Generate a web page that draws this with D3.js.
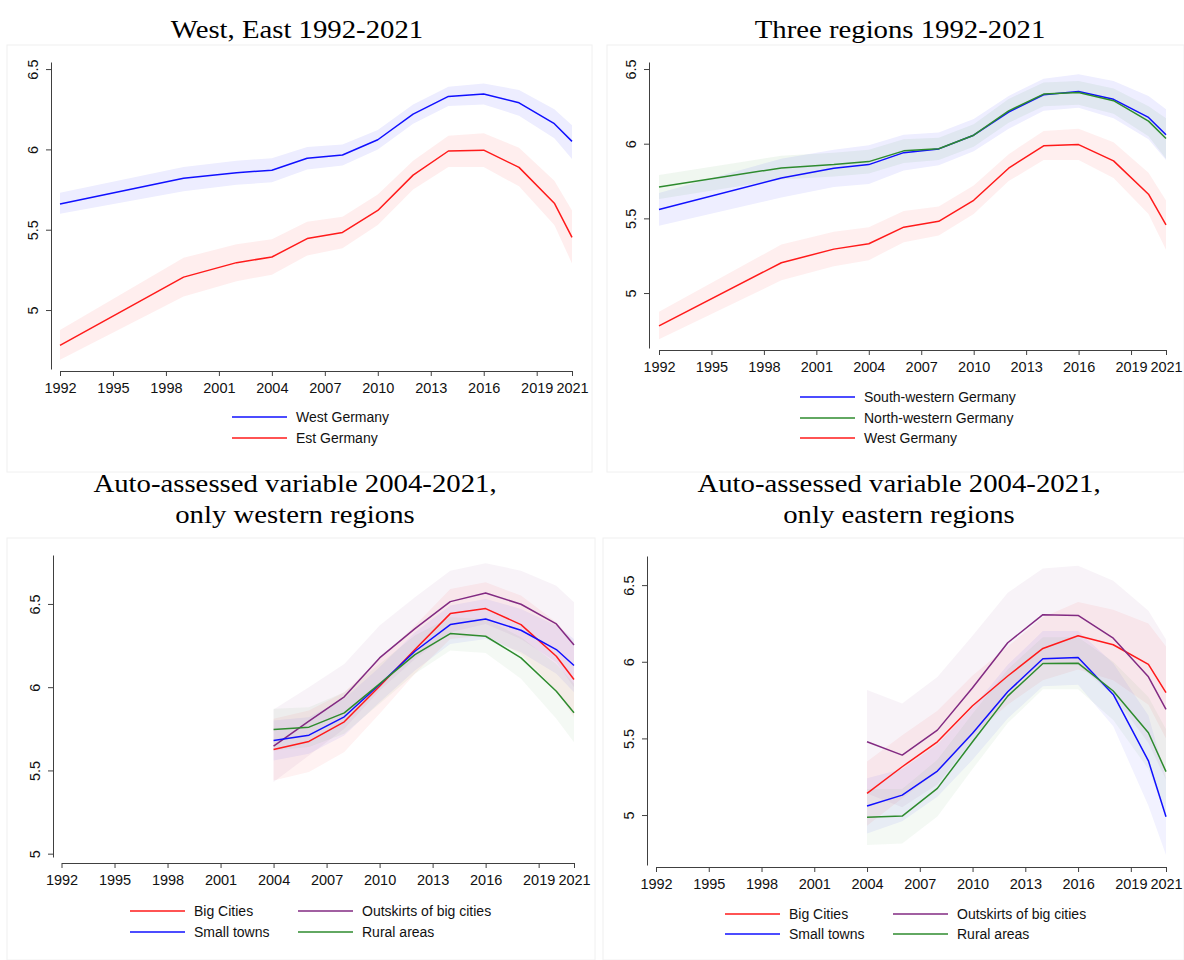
<!DOCTYPE html>
<html>
<head>
<meta charset="utf-8">
<script src="https://cdn.jsdelivr.net/npm/d3@7"></script>
<style>
  html, body { margin: 0; padding: 0; background: #ffffff; }
  svg { display: block; }
</style>
</head>
<body>
<svg id="chart" width="1184" height="960"></svg>
<script>
// ---------------- DATA ----------------
const xTickYears = [1992, 1995, 1998, 2001, 2004, 2007, 2010, 2013, 2016, 2019, 2021];
const yTicksTop = [5, 5.5, 6, 6.5];
const yTickLabels = ["5", "5.5", "6", "6.5"];

const yearsFull = [1992, 1999, 2002, 2004, 2006, 2008, 2010, 2012, 2014, 2016, 2018, 2020, 2021];
const yearsShort = [2004, 2006, 2008, 2010, 2012, 2014, 2016, 2018, 2020, 2021];

// Panel 1: West / East
const westMean = [5.66, 5.82, 5.855, 5.87, 5.945, 5.965, 6.06, 6.22, 6.33, 6.345, 6.29, 6.16, 6.05];
const westLo   = [5.60, 5.74, 5.78, 5.795, 5.875, 5.90, 6.00, 6.16, 6.27, 6.28, 6.21, 6.07, 5.94];
const westHi   = [5.73, 5.89, 5.93, 5.945, 6.015, 6.03, 6.12, 6.28, 6.39, 6.41, 6.37, 6.25, 6.15];
const eastMean = [4.78, 5.205, 5.295, 5.33, 5.445, 5.483, 5.62, 5.84, 5.99, 5.995, 5.888, 5.665, 5.452];
const eastLo   = [4.69, 5.085, 5.18, 5.22, 5.34, 5.385, 5.53, 5.75, 5.89, 5.89, 5.77, 5.53, 5.29];
const eastHi   = [4.875, 5.325, 5.41, 5.44, 5.55, 5.58, 5.72, 5.93, 6.085, 6.10, 6.01, 5.805, 5.62];

// Panel 2: three regions
const swMean = [5.56, 5.77, 5.835, 5.86, 5.94, 5.965, 6.057, 6.212, 6.328, 6.35, 6.297, 6.176, 6.06];
const swLo   = [5.45, 5.64, 5.71, 5.73, 5.82, 5.855, 5.95, 6.10, 6.22, 6.24, 6.17, 6.03, 5.89];
const swHi   = [5.67, 5.90, 5.96, 5.99, 6.06, 6.075, 6.165, 6.32, 6.435, 6.465, 6.42, 6.32, 6.23];
const nwMean = [5.71, 5.838, 5.86, 5.88, 5.952, 5.966, 6.057, 6.22, 6.332, 6.343, 6.288, 6.151, 6.035];
const nwLo   = [5.63, 5.76, 5.78, 5.80, 5.87, 5.89, 5.98, 6.14, 6.25, 6.26, 6.20, 6.05, 5.90];
const nwHi   = [5.79, 5.92, 5.94, 5.96, 6.03, 6.04, 6.13, 6.30, 6.41, 6.42, 6.37, 6.25, 6.17];
const wgMean = [4.78, 5.203, 5.294, 5.33, 5.441, 5.48, 5.621, 5.836, 5.986, 5.994, 5.885, 5.662, 5.456];
const wgLo   = [4.69, 5.085, 5.18, 5.22, 5.34, 5.385, 5.53, 5.75, 5.89, 5.89, 5.77, 5.53, 5.29];
const wgHi   = [4.875, 5.325, 5.41, 5.44, 5.55, 5.58, 5.72, 5.93, 6.085, 6.10, 6.01, 5.805, 5.62];

// Panel 3: western regions
const w_big   = [5.626, 5.674, 5.792, 6.006, 6.226, 6.442, 6.472, 6.376, 6.186, 6.046];
const w_bigLo = [5.44, 5.49, 5.61, 5.84, 6.08, 6.29, 6.31, 6.20, 5.98, 5.82];
const w_bigHi = [5.81, 5.86, 5.97, 6.17, 6.37, 6.59, 6.63, 6.55, 6.39, 6.27];
const w_out   = [5.646, 5.796, 5.942, 6.176, 6.352, 6.514, 6.566, 6.498, 6.38, 6.254];
const w_outLo = [5.43, 5.59, 5.75, 5.98, 6.17, 6.33, 6.38, 6.29, 6.15, 6.00];
const w_outHi = [5.866, 6.00, 6.14, 6.37, 6.54, 6.70, 6.745, 6.70, 6.61, 6.51];
const w_small   = [5.68, 5.712, 5.822, 6.016, 6.216, 6.376, 6.41, 6.342, 6.226, 6.13];
const w_smallLo = [5.56, 5.60, 5.71, 5.91, 6.10, 6.26, 6.29, 6.21, 6.08, 5.97];
const w_smallHi = [5.80, 5.82, 5.93, 6.12, 6.33, 6.49, 6.53, 6.47, 6.37, 6.29];
const w_rural   = [5.746, 5.76, 5.846, 6.02, 6.196, 6.322, 6.306, 6.176, 5.976, 5.846];
const w_ruralLo = [5.62, 5.64, 5.72, 5.90, 6.08, 6.22, 6.206, 6.05, 5.81, 5.67];
const w_ruralHi = [5.87, 5.88, 5.97, 6.14, 6.31, 6.42, 6.41, 6.30, 6.14, 6.02];

// Panel 4: eastern regions
const e_big   = [5.141, 5.315, 5.478, 5.713, 5.907, 6.087, 6.17, 6.111, 5.983, 5.798];
const e_bigLo = [4.93, 5.11, 5.28, 5.52, 5.72, 5.88, 5.95, 5.88, 5.72, 5.50];
const e_bigHi = [5.35, 5.52, 5.68, 5.91, 6.10, 6.29, 6.39, 6.34, 6.25, 6.10];
const e_out   = [5.478, 5.391, 5.554, 5.83, 6.124, 6.307, 6.302, 6.154, 5.902, 5.689];
const e_outLo = [5.14, 5.05, 5.20, 5.49, 5.80, 6.00, 5.98, 5.78, 5.47, 5.23];
const e_outHi = [5.815, 5.728, 5.90, 6.17, 6.45, 6.609, 6.626, 6.528, 6.333, 6.146];
const e_small   = [5.059, 5.13, 5.287, 5.533, 5.804, 6.02, 6.028, 5.787, 5.354, 4.989];
const e_smallLo = [4.88, 4.96, 5.12, 5.36, 5.63, 5.84, 5.85, 5.58, 5.06, 4.74];
const e_smallHi = [5.24, 5.30, 5.46, 5.70, 5.98, 6.20, 6.20, 5.99, 5.65, 5.24];
const e_rural   = [4.985, 4.993, 5.174, 5.478, 5.776, 5.989, 5.991, 5.809, 5.537, 5.283];
const e_ruralLo = [4.804, 4.815, 4.99, 5.30, 5.60, 5.82, 5.82, 5.62, 5.30, 5.00];
const e_ruralHi = [5.17, 5.17, 5.36, 5.66, 5.95, 6.16, 6.16, 6.00, 5.77, 5.56];

const BLUE = "#1010ff", RED = "#ff1a1a", GREEN = "#2e8b2e", PURPLE = "#822a82";

// --------------- LAYOUT ----------------
const svg = d3.select("#chart");

const panels = [
  {
    frame: [7, 45, 585, 427],
    title: ["West, East 1992-2021"], titleX: 297, titleY: [38],
    yAxisX: 51, yDomain: [4.633, 6.544], yRange: [369, 62],
    xRange: [60, 572], xAxisY: 371, bandOpacity: 0.075,
    years: yearsFull,
    series: [
      {name: "West Germany", color: BLUE, mean: westMean, lo: westLo, hi: westHi},
      {name: "Est Germany", color: RED, mean: eastMean, lo: eastLo, hi: eastHi}
    ],
    legend: {cols: [232], rows: [417, 438], order: [[0,0],[0,1]]}
  },
  {
    frame: [607, 45, 577, 427],
    title: ["Three regions 1992-2021"], titleX: 900, titleY: [38],
    yAxisX: 649, yDomain: [4.632, 6.547], yRange: [348, 62],
    xRange: [659, 1166], xAxisY: 350, bandOpacity: 0.07,
    years: yearsFull,
    series: [
      {name: "West Germany", color: RED, mean: wgMean, lo: wgLo, hi: wgHi},
      {name: "South-western Germany", color: BLUE, mean: swMean, lo: swLo, hi: swHi},
      {name: "North-western Germany", color: GREEN, mean: nwMean, lo: nwLo, hi: nwHi}
    ],
    legend: {cols: [800], rows: [397, 418, 438], order: [[0,2],[0,0],[0,1]]}
  },
  {
    frame: [7, 538, 588, 422],
    title: ["Auto-assessed variable 2004-2021,", "only western regions"], titleX: 295, titleY: [492, 523],
    yAxisX: 53, yDomain: [4.98, 6.794], yRange: [857, 555],
    xRange: [61.5, 574], xAxisY: 863, bandOpacity: 0.055,
    years: yearsShort,
    series: [
      {name: "Big Cities", color: RED, mean: w_big, lo: w_bigLo, hi: w_bigHi},
      {name: "Outskirts of big cities", color: PURPLE, mean: w_out, lo: w_outLo, hi: w_outHi},
      {name: "Small towns", color: BLUE, mean: w_small, lo: w_smallLo, hi: w_smallHi},
      {name: "Rural areas", color: GREEN, mean: w_rural, lo: w_ruralLo, hi: w_ruralHi}
    ],
    legend: {cols: [130, 298], rows: [911, 932], order: [[0,0],[1,0],[0,1],[1,1]]}
  },
  {
    frame: [603, 538, 581, 422],
    title: ["Auto-assessed variable 2004-2021,", "only eastern regions"], titleX: 899, titleY: [492, 523],
    yAxisX: 647, yDomain: [4.674, 6.69], yRange: [865, 556],
    xRange: [656, 1166], xAxisY: 867, bandOpacity: 0.055,
    years: yearsShort,
    series: [
      {name: "Big Cities", color: RED, mean: e_big, lo: e_bigLo, hi: e_bigHi},
      {name: "Outskirts of big cities", color: PURPLE, mean: e_out, lo: e_outLo, hi: e_outHi},
      {name: "Small towns", color: BLUE, mean: e_small, lo: e_smallLo, hi: e_smallHi},
      {name: "Rural areas", color: GREEN, mean: e_rural, lo: e_ruralLo, hi: e_ruralHi}
    ],
    legend: {cols: [725, 893], rows: [914, 934], order: [[0,0],[1,0],[0,1],[1,1]]}
  }
];

panels.forEach(p => {
  const g = svg.append("g");

  // faint frame
  g.append("rect")
    .attr("x", p.frame[0]).attr("y", p.frame[1])
    .attr("width", p.frame[2]).attr("height", p.frame[3])
    .attr("fill", "none").attr("stroke", "#f0f0f0").attr("stroke-width", 1);

  // title
  p.title.forEach((t, i) => {
    g.append("text")
      .attr("transform", `translate(${p.titleX},${p.titleY[i]}) scale(1.15,1)`)
      .attr("text-anchor", "middle")
      .attr("font-family", "'Liberation Serif', 'Times New Roman', serif")
      .attr("font-size", 25)
      .attr("fill", "#000")
      .text(t);
  });

  const x = d3.scaleLinear().domain([1992, 2021]).range(p.xRange);
  const y = d3.scaleLinear().domain(p.yDomain).range(p.yRange);

  // bands
  p.series.forEach(s => {
    const rows = p.years.map((yr, i) => ({yr, lo: s.lo[i], hi: s.hi[i]}));
    g.append("path")
      .datum(rows)
      .attr("fill", s.color)
      .attr("fill-opacity", p.bandOpacity)
      .attr("stroke", "none")
      .attr("d", d3.area().x(d => x(d.yr)).y0(d => y(d.lo)).y1(d => y(d.hi)));
  });
  // lines
  p.series.forEach(s => {
    const rows = p.years.map((yr, i) => ({yr, v: s.mean[i]}));
    g.append("path")
      .datum(rows)
      .attr("fill", "none")
      .attr("stroke", s.color)
      .attr("stroke-width", 1.5)
      .attr("stroke-linejoin", "round")
      .attr("d", d3.line().x(d => x(d.yr)).y(d => y(d.v)));
  });

  // x axis
  const xa = g.append("g")
    .attr("transform", `translate(0,${p.xAxisY})`)
    .call(d3.axisBottom(x).tickValues(xTickYears).tickFormat(d3.format("d"))
      .tickSize(5).tickSizeOuter(0).tickPadding(7));
  xa.select(".domain").attr("stroke", "#404040");
  xa.selectAll(".tick line").attr("stroke", "#404040");
  xa.selectAll(".tick text")
    .attr("font-family", "'Liberation Sans', Arial, sans-serif")
    .attr("font-size", 14.5).attr("fill", "#111");

  // y axis
  const ya = g.append("g")
    .attr("transform", `translate(${p.yAxisX},0)`)
    .call(d3.axisLeft(y).tickValues(yTicksTop)
      .tickFormat((d, i) => yTickLabels[i])
      .tickSize(5).tickSizeOuter(0));
  ya.select(".domain").attr("stroke", "#404040");
  ya.selectAll(".tick line").attr("stroke", "#404040");
  ya.selectAll(".tick text")
    .attr("transform", "rotate(-90)")
    .attr("x", 0).attr("y", -13).attr("dy", 0)
    .attr("text-anchor", "middle")
    .attr("font-family", "'Liberation Sans', Arial, sans-serif")
    .attr("font-size", 14.5).attr("fill", "#111");

  // legend
  const lg = g.append("g");
  p.series.forEach((s, i) => {
    const [c, r] = p.legend.order[i];
    const lx = p.legend.cols[c], ly = p.legend.rows[r];
    lg.append("line")
      .attr("x1", lx).attr("x2", lx + 55)
      .attr("y1", ly).attr("y2", ly)
      .attr("stroke", s.color).attr("stroke-width", 1.5);
    lg.append("text")
      .attr("x", lx + 64).attr("y", ly + 5)
      .attr("font-family", "'Liberation Sans', Arial, sans-serif")
      .attr("font-size", 14).attr("fill", "#111")
      .text(s.name);
  });
});
</script>
</body>
</html>
